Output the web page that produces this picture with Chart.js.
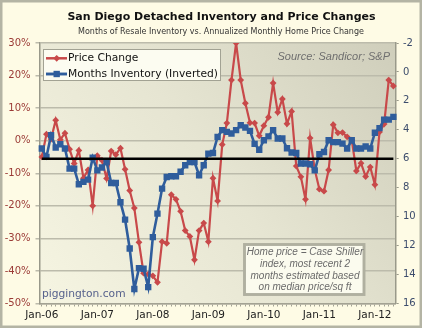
<!DOCTYPE html>
<html>
<head>
<meta charset="utf-8">
<script src="https://cdn.jsdelivr.net/npm/chart.js@4.4.1/dist/chart.umd.min.js"></script>
<style>
  html, body { margin: 0; padding: 0; background: #fefbe5; }
  #wrap { width: 422px; height: 328px; }
</style>
</head>
<body>
<div id="wrap"><canvas id="myChart" width="422" height="328"></canvas></div>
<script>
// Data
const months = [
  "Jan-06","Feb-06","Mar-06","Apr-06","May-06","Jun-06","Jul-06","Aug-06","Sep-06","Oct-06","Nov-06","Dec-06",
  "Jan-07","Feb-07","Mar-07","Apr-07","May-07","Jun-07","Jul-07","Aug-07","Sep-07","Oct-07","Nov-07","Dec-07",
  "Jan-08","Feb-08","Mar-08","Apr-08","May-08","Jun-08","Jul-08","Aug-08","Sep-08","Oct-08","Nov-08","Dec-08",
  "Jan-09","Feb-09","Mar-09","Apr-09","May-09","Jun-09","Jul-09","Aug-09","Sep-09","Oct-09","Nov-09","Dec-09",
  "Jan-10","Feb-10","Mar-10","Apr-10","May-10","Jun-10","Jul-10","Aug-10","Sep-10","Oct-10","Nov-10","Dec-10",
  "Jan-11","Feb-11","Mar-11","Apr-11","May-11","Jun-11","Jul-11","Aug-11","Sep-11","Oct-11","Nov-11","Dec-11",
  "Jan-12","Feb-12","Mar-12","Apr-12","May-12"
];

// annualized monthly home price change, %
const priceChange = [
  -5.0, 2.0, 0.5, 6.3, 0.3, 2.3, -2.6, -7.0, -3.0, -11.5,
  -9.0, -20.0, -4.6, -6.0, -11.6, -3.2, -4.3, -2.3, -8.8, -15.3,
  -20.7, -31.2, -40.7, -41.0, -41.5, -43.5, -31.0, -31.5, -16.6, -18.0,
  -21.7, -27.6, -29.4, -36.6, -27.6, -25.3, -31.0, -11.5, -18.5, -1.2,
  5.4, 18.6, 30.0, 18.6, 11.5, 5.5, 5.4, 1.5, 4.6, 7.2,
  17.7, 8.7, 12.8, 5.2, 9.0, -7.8, -11.1, -18.0, 0.8, -8.9,
  -14.9, -15.5, -9.0, 4.9, 2.4, 2.5, 1.2, 0.2, -9.3, -6.9,
  -11.0, -8.1, -13.5, 2.7, 5.1, 18.6, 16.8
];

// months of resale inventory (plotted on an inverted axis)
const monthsInventory = [
  5.29, 5.87, 4.37, 5.22, 5.0, 5.29, 6.68, 6.68, 7.76, 7.6,
  7.44, 5.92, 6.8, 6.6, 6.22, 7.67, 7.67, 9.0, 10.2, 12.2,
  15.0, 13.56, 13.6, 14.87, 11.41, 9.79, 8.06, 7.26, 7.21, 7.21,
  6.9, 6.45, 6.22, 6.22, 7.14, 6.45, 5.64, 5.6, 4.49, 4.02,
  4.14, 4.25, 4.02, 3.68, 3.84, 4.07, 4.97, 5.38, 4.72, 4.45,
  4.02, 4.6, 4.6, 5.27, 5.57, 5.6, 6.33, 6.33, 6.38, 6.8,
  5.69, 5.53, 4.72, 4.85, 4.85, 4.95, 5.29, 4.72, 5.29, 5.29,
  5.15, 5.29, 4.2, 3.88, 3.29, 3.29, 3.1
];

// balanced market reference line (months of inventory)
const balancedInventory = 6;

const titleText = "San Diego Detached Inventory and Price Changes";
const subtitleText = "Months of Resale Inventory vs. Annualized Monthly Home Price Change";
const sourceText = "Source: Sandicor; S&P";
const noteLines = [
  "Home price = Case Shiller",
  "index, most recent 2",
  "months estimated based",
  "on median price/sq ft"
];
const siteText = "piggington.com";

const red = "#c8494a";
const blue = "#2f5d9c";
const fontFamily = "'DejaVu Sans', Verdana, sans-serif";

Chart.defaults.font.family = fontFamily;

// Backdrop: cream page, outer border, shaded plot area
const backdrop = {
  id: "backdrop",
  beforeDraw(chart) {
    const ctx = chart.ctx;
    const a = chart.chartArea;
    ctx.save();
    ctx.fillStyle = "#fefbe5";
    ctx.fillRect(0, 0, chart.width, chart.height);
    const g = ctx.createLinearGradient(a.left, a.bottom, a.right, a.top);
    g.addColorStop(0, "#f6f5e2");
    g.addColorStop(0.5, "#e6e5d2");
    g.addColorStop(1, "#cfcebb");
    ctx.fillStyle = g;
    ctx.fillRect(a.left, a.top, a.right - a.left, a.bottom - a.top);
    ctx.strokeStyle = "#b4b4a4";
    ctx.lineWidth = 2.5;
    ctx.strokeRect(1.25, 1.25, chart.width - 2.5, chart.height - 2.5);
    ctx.restore();
  }
};

// Black line at the balanced inventory level, first to last month
const balancedLine = {
  id: "balancedLine",
  afterDatasetsDraw(chart) {
    const ctx = chart.ctx;
    const x = chart.scales.x;
    const y = chart.scales.yInv.getPixelForValue(balancedInventory);
    ctx.save();
    ctx.strokeStyle = "#000";
    ctx.lineWidth = 2.5;
    ctx.beginPath();
    ctx.moveTo(x.getPixelForValue(0), y);
    ctx.lineTo(x.getPixelForValue(months.length - 1), y);
    ctx.stroke();
    ctx.restore();
  }
};

// Titles, legend, source, note box and site name
const decorations = {
  id: "decorations",
  afterDraw(chart) {
    const ctx = chart.ctx;
    ctx.save();
    ctx.textBaseline = "middle";

    ctx.textAlign = "center";
    ctx.fillStyle = "#111";
    ctx.font = "bold 11px " + fontFamily;
    ctx.fillText(titleText, 221.5, 16.7);
    ctx.fillStyle = "#333";
    ctx.font = "8px " + fontFamily;
    ctx.fillText(subtitleText, 221, 32);

    // legend
    ctx.fillStyle = "#fcfcf1";
    ctx.fillRect(43.5, 49.5, 177, 31);
    ctx.strokeStyle = "#a2a293";
    ctx.lineWidth = 1;
    ctx.strokeRect(43.5, 49.5, 177, 31);
    const rows = [58.3, 74];
    chart.data.datasets.forEach((ds, i) => {
      const yy = rows[i];
      ctx.strokeStyle = ds.borderColor;
      ctx.lineWidth = ds.borderWidth + 0.3;
      ctx.beginPath();
      ctx.moveTo(46, yy);
      ctx.lineTo(67, yy);
      ctx.stroke();
      ctx.fillStyle = ds.borderColor;
      Chart.helpers.drawPoint(ctx, { pointStyle: ds.pointStyle, radius: ds.pointRadius, borderWidth: 0, rotation: 0 }, 56.7, yy);
      ctx.fillStyle = "#111";
      ctx.textAlign = "left";
      ctx.font = "10.7px " + fontFamily;
      ctx.fillText(ds.label, 68, yy);
    });

    // source
    ctx.fillStyle = "#6f6f6f";
    ctx.textAlign = "right";
    ctx.font = "italic 11px 'Liberation Sans', Arial, sans-serif";
    ctx.fillText(sourceText, 390, 57);

    // note box
    ctx.fillStyle = "#fbfbee";
    ctx.fillRect(244.5, 244.5, 119.5, 50);
    ctx.strokeStyle = "#b0b0a0";
    ctx.strokeRect(244.5, 244.5, 119.5, 50);
    ctx.fillStyle = "#6a6a6a";
    ctx.textAlign = "center";
    ctx.font = "italic 10px 'Liberation Sans', Arial, sans-serif";
    noteLines.forEach((t, i) => ctx.fillText(t, 305, 252 + i * 11.9));

    // site name
    ctx.fillStyle = "#56618c";
    ctx.textAlign = "left";
    ctx.font = "10.7px " + fontFamily;
    ctx.fillText(siteText, 42, 294.3);
    ctx.restore();
  }
};

const data = {
  labels: months,
  datasets: [
    {
      label: "Price Change",
      data: priceChange,
      yAxisID: "yPrice",
      borderColor: red,
      backgroundColor: red,
      borderWidth: 2.2,
      pointStyle: "rectRot",
      pointRadius: 3.4,
      pointBorderWidth: 0,
      order: 2
    },
    {
      label: "Months Inventory (Inverted)",
      data: monthsInventory,
      yAxisID: "yInv",
      borderColor: blue,
      backgroundColor: blue,
      borderWidth: 2.6,
      pointStyle: "rect",
      pointRadius: 4.5,
      pointBorderWidth: 0,
      order: 1
    }
  ]
};

const config = {
  type: "line",
  data: data,
  options: {
    responsive: false,
    animation: false,
    devicePixelRatio: 1,
    layout: { padding: { top: 43, left: 0, right: 0, bottom: 0 } },
    plugins: {
      legend: { display: false },
      tooltip: { enabled: false }
    },
    scales: {
      x: {
        type: "category",
        offset: true,
        afterFit: (s) => { s.height = 24.5; },
        grid: { drawOnChartArea: false, tickLength: 3, color: "#a3a293", lineWidth: 1 },
        border: { color: "#a3a293", width: 1.5 },
        ticks: {
          autoSkip: false,
          maxRotation: 0,
          padding: 2.5,
          color: "#222",
          font: { size: 10.5 },
          callback: (v, i) => (months[i].startsWith("Jan") ? months[i] : "")
        }
      },
      yPrice: {
        position: "left",
        min: -50,
        max: 30,
        afterFit: (s) => { s.width = 39.5; },
        grid: { color: "#bcbbab", lineWidth: 1.5, tickLength: 4 },
        border: { color: "#99998a", width: 1.5 },
        ticks: {
          stepSize: 10,
          padding: 5,
          color: "#9b3a36",
          font: { size: 10 },
          callback: (v) => v + "%"
        }
      },
      yInv: {
        position: "right",
        reverse: true,
        min: -2,
        max: 16,
        afterFit: (s) => { s.width = 26.3; },
        grid: { drawOnChartArea: false, tickLength: 3, color: "#99998a" },
        border: { color: "#99998a", width: 1.5 },
        ticks: {
          stepSize: 2,
          padding: 4.3,
          color: "#3c4c6c",
          font: { size: 10 }
        }
      }
    }
  },
  plugins: [backdrop, balancedLine, decorations]
};

const myChart = new Chart(document.getElementById("myChart"), config);
</script>
</body>
</html>
